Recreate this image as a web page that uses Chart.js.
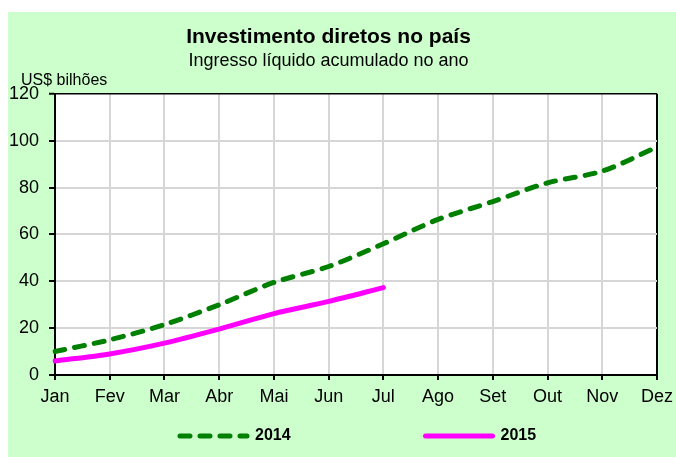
<!DOCTYPE html>
<html>
<head>
<meta charset="utf-8">
<script src="https://cdn.jsdelivr.net/npm/chart.js@4/dist/chart.umd.min.js"></script>
<style>
  html, body { margin: 0; padding: 0; background: #fff; }
</style>
</head>
<body>
<canvas id="myChart" width="676" height="457"></canvas>
<script>
const months = ['Jan', 'Fev', 'Mar', 'Abr', 'Mai', 'Jun', 'Jul', 'Ago', 'Set', 'Out', 'Nov', 'Dez'];
const values2014 = [10, 15, 21.5, 30, 39.5, 46.3, 56, 66.4, 74, 82, 87, 97.3];
const values2015 = [6, 9, 13.6, 19.6, 26.2, 31.4, 37.3];
const seriesNames = ['2014', '2015'];
const titleText = 'Investimento diretos no país';
const subtitleText = 'Ingresso líquido acumulado no ano';
const unitText = 'US$ bilhões';

const FONT = "'Liberation Sans', Arial, sans-serif";
Chart.defaults.font.family = FONT;
Chart.defaults.color = '#000';

// green frame behind everything, white plot area
const background = {
  id: 'background',
  beforeDraw(chart) {
    const {ctx, chartArea: a} = chart;
    ctx.save();
    ctx.fillStyle = '#fff';
    ctx.fillRect(0, 0, chart.width, chart.height);
    ctx.fillStyle = '#ccffcc';
    ctx.fillRect(8, 12, chart.width - 8, chart.height - 12);
    ctx.fillStyle = '#fff';
    ctx.fillRect(a.left, a.top, a.right - a.left, a.bottom - a.top);
    ctx.restore();
  }
};

// unit label and the legend at the bottom
const extras = {
  id: 'extras',
  afterDraw(chart) {
    const ctx = chart.ctx;
    ctx.save();
    ctx.fillStyle = '#000';
    ctx.textBaseline = 'middle';
    ctx.textAlign = 'left';
    ctx.font = '16px ' + FONT;
    ctx.fillText(unitText, 21, 81);

    const legendY = 436;
    const starts = [180, 425.5];
    chart.data.datasets.forEach((ds, i) => {
      const x0 = starts[i];
      ctx.beginPath();
      ctx.strokeStyle = ds.borderColor;
      ctx.lineWidth = ds.borderWidth;
      ctx.lineCap = 'round';
      ctx.setLineDash(ds.borderDash || []);
      ctx.moveTo(x0, legendY);
      ctx.lineTo(x0 + 67, legendY);
      ctx.stroke();
      ctx.setLineDash([]);
      ctx.font = 'bold 16px ' + FONT;
      ctx.fillText(ds.label, x0 + 75, legendY);
    });
    ctx.restore();
  }
};

const config = {
  type: 'line',
  data: {
    labels: months,
    datasets: [{
      label: seriesNames[0],
      data: values2014,
      borderColor: '#008000',
      borderWidth: 5,
      borderDash: [10, 10],
      borderCapStyle: 'round',
      pointRadius: 0,
      tension: 0.3,
      fill: false
    }, {
      label: seriesNames[1],
      data: values2015,
      borderColor: '#ff00ff',
      borderWidth: 5,
      borderCapStyle: 'round',
      pointRadius: 0,
      tension: 0.3,
      fill: false
    }]
  },
  options: {
    responsive: false,
    animation: false,
    devicePixelRatio: 1,
    layout: {
      autoPadding: false,
      padding: {left: 0, right: 19, top: 12, bottom: 47}
    },
    plugins: {
      legend: {display: false},
      tooltip: {enabled: false},
      title: {
        display: true,
        text: titleText,
        color: '#000',
        font: {size: 21, weight: 'bold'},
        padding: {top: 13, bottom: 0}
      },
      subtitle: {
        display: true,
        text: subtitleText,
        color: '#000',
        font: {size: 18},
        padding: {top: 0, bottom: 22}
      }
    },
    scales: {
      x: {
        type: 'category',
        offset: false,
        grid: {
          color: ctx => ctx.index === months.length - 1 ? '#000' : '#d6d6d6',
          lineWidth: 2,
          tickColor: '#000',
          tickWidth: 2,
          tickLength: 5
        },
        border: {display: true, color: '#000', width: 2},
        ticks: {font: {size: 18}, padding: 6, maxRotation: 0, autoSkip: false},
        afterFit(scale) {
          scale.height = 35;
          scale.paddingLeft = 0;
          scale.paddingRight = 0;
        }
      },
      y: {
        min: 0,
        max: 120,
        grid: {
          color: ctx => ctx.tick && ctx.tick.value === 120 ? '#000' : '#d6d6d6',
          lineWidth: ctx => ctx.tick && ctx.tick.value === 120 ? 1.5 : 2,
          tickColor: '#000',
          tickWidth: 2,
          tickLength: 6
        },
        border: {display: true, color: '#000', width: 2},
        ticks: {stepSize: 20, font: {size: 18}, padding: 10},
        afterFit(scale) {
          scale.width = 55;
          scale.paddingTop = 0;
          scale.paddingBottom = 0;
        }
      }
    }
  },
  plugins: [background, extras]
};

const myChart = new Chart(document.getElementById('myChart'), config);
</script>
</body>
</html>
